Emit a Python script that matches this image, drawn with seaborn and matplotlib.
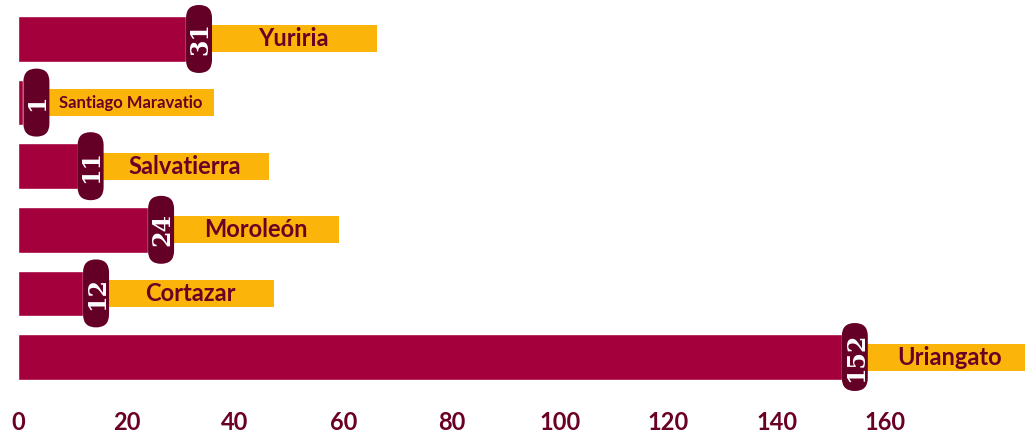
import matplotlib
matplotlib.use("Agg")
import matplotlib.pyplot as plt
from matplotlib.patches import FancyBboxPatch, Rectangle
from matplotlib.transforms import IdentityTransform
import seaborn as sns
import pandas as pd

# data
municipios = ["Yuriria", "Santiago Maravatio", "Salvatierra", "Moroleón", "Cortazar", "Uriangato"]
casos = [31, 1, 11, 24, 12, 152]
name_sizes = [17, 12, 17, 17, 17, 17]
xticks = [0, 20, 40, 60, 80, 100, 120, 140, 160]

BAR = "#A3003C"
PILL = "#640026"
YELLOW = "#FBB40A"
TEXT = "#6B0026"

df = pd.DataFrame({"municipio": municipios, "casos": casos})

sns.set_theme(style="white")
plt.rcParams["font.family"] = ["Lato", "DejaVu Sans"]

fig = plt.figure(figsize=(10.25, 4.4), dpi=100)
ax = fig.add_axes([18 / 1025, 48 / 440, 1007 / 1025, 392 / 440])

sns.barplot(data=df, x="casos", y="municipio", orient="h", color=BAR,
            saturation=1, width=0.72, ax=ax, zorder=1)

ax.set_xlim(0, 185.8)
ax.set_ylim(5.55, -0.613)
ax.set_xticks(xticks)
ax.set_xticklabels([str(t) for t in xticks], fontsize=17, fontweight="bold", color=TEXT)
ax.tick_params(axis="x", length=0, pad=14)
ax.set_yticks([])
ax.set_xlabel("")
ax.set_ylabel("")
for s in ax.spines.values():
    s.set_visible(False)

# pill with value + yellow name box, placed in pixels from data coords
pill_w, pill_h = 26, 68
box_w, box_h = 167, 27
for i, (name, val) in enumerate(zip(municipios, casos)):
    px, py = ax.transData.transform((val, i))
    rect = Rectangle((px + pill_w - 2, py - box_h / 2), box_w, box_h,
                     transform=IdentityTransform(), facecolor=YELLOW,
                     edgecolor="none", zorder=3, clip_on=False)
    fig.add_artist(rect)
    pill = FancyBboxPatch((px, py - pill_h / 2), pill_w, pill_h,
                          boxstyle="round,pad=0,rounding_size=13",
                          transform=IdentityTransform(), facecolor=PILL,
                          edgecolor="none", zorder=4, clip_on=False)
    fig.add_artist(pill)
    fig.text(px + pill_w / 2 + 1, py, str(val), transform=IdentityTransform(),
             rotation=90, ha="center", va="center", color="white",
             fontsize=17, fontweight="bold", family="DejaVu Serif", zorder=5)
    fig.text(px + pill_w - 2 + box_w / 2, py, name, transform=IdentityTransform(),
             ha="center", va="center", color=TEXT, fontsize=name_sizes[i],
             fontweight="bold", zorder=5)

fig.savefig("out.png", dpi=100)
